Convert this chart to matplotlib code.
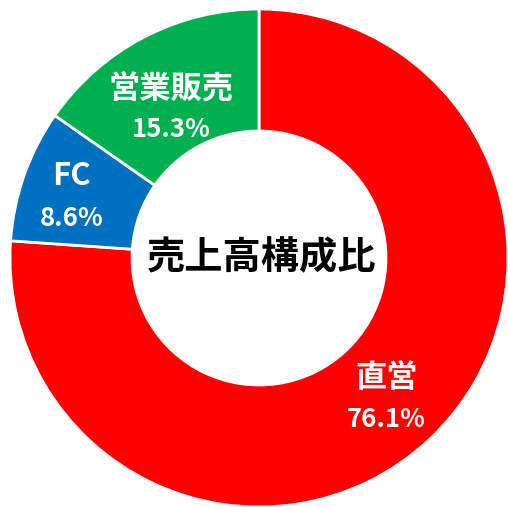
import matplotlib
matplotlib.use("Agg")
import matplotlib.pyplot as plt

plt.rcParams['font.family'] = ['Noto Sans CJK JP', 'DejaVu Sans']

# 売上高構成比のデータ
categories = ['直営', 'FC', '営業販売']
shares = [76.1, 8.6, 15.3]
colors = ['#FF0000', '#0070C0', '#00B050']
center_title = '売上高構成比'
# ラベルの微調整 (ポイント単位)
nudges = [(0, -2), (-8, 0), (-1, -11)]

fig = plt.figure(figsize=(5.08, 5.07), dpi=100)
ax = fig.add_axes([0, 0, 1, 1])

wedges, texts = ax.pie(shares, colors=colors, startangle=90, counterclock=False,
                       radius=1.0, labels=[''] * len(shares), labeldistance=0.75,
                       wedgeprops=dict(width=0.49, edgecolor='white', linewidth=2))

for t, name, v, (dx, dy) in zip(texts, categories, shares, nudges):
    x, y = t.get_position()
    ax.annotate(name, (x, y), xytext=(dx, dy + 14), textcoords='offset points',
                ha='center', va='center', color='white', fontsize=22.5,
                fontweight='bold')
    ax.annotate(f'{v:.1f}%', (x, y), xytext=(dx, dy - 16), textcoords='offset points',
                ha='center', va='center', color='white', fontsize=18.5,
                fontweight='bold')

ax.text(0.01, 0.0, center_title, ha='center', va='center',
        fontsize=27.5, fontweight='bold', color='black')

ax.set_xlim(-259 / 249, (508 - 259) / 249)
ax.set_ylim(-249 / 249, 258 / 249)
ax.set_aspect('equal')
ax.axis('off')

fig.savefig('out.png', dpi=100)
